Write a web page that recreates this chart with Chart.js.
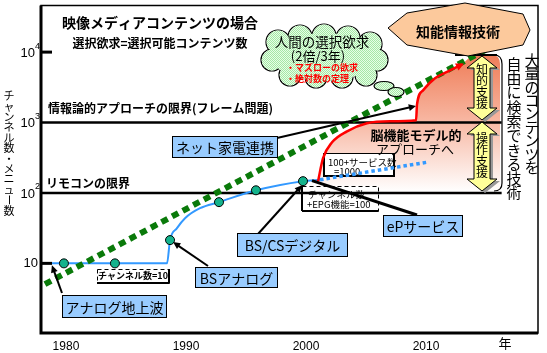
<!DOCTYPE html>
<html>
<head>
<meta charset="utf-8">
<script src="https://cdn.jsdelivr.net/npm/chart.js@4.4.1/dist/chart.umd.min.js"></script>
<style>
  html, body { margin: 0; padding: 0; background: #fff; }
  canvas { display: block; }
</style>
</head>
<body>
<canvas id="chart" width="547" height="353"></canvas>
<script>
// Axis ticks
const xTicks = [1980, 1990, 2000, 2010];
const yTicks = [10, 100, 1000, 10000];
const yTickExponents = ['', '2', '3', '4'];

// Selection demand trend (2x every 3 years)
const trendYears = [1978.25, 2015.33];
const trendValues = [5.08, 11650];

// Channel count (solid) and its forecast (dotted)
const channelYears = [1978.83, 1988.42, 1988.67, 1989.25, 1989.92, 1991.17, 1992.75, 1995.83, 1999.75, 2001.17];
const channelValues = [10, 10, 21.4, 31.6, 43.8, 60.8, 74, 109, 147, 154];
const forecastYears = [2001.17, 2010.08];
const forecastValues = [154, 273];

// Milestones on the channel line
const milestoneYears = [1979.83, 1984.08, 1988.67, 1992.75, 1995.83, 1999.75];
const milestoneValues = [10, 10, 21.4, 74, 109, 147];

// Brain-model approach (red)
const brainYears = [2001.0, 2001.42, 2002.17, 2003.42, 2005.08, 2007.0, 2009.17, 2009.25, 2009.75, 2010.75, 2012.0, 2013.0];
const brainValues = [145, 311, 524, 750, 975, 1040, 1074, 1811, 2862, 4240, 5500, 6690];

// Limit lines
const limitYears = [1977.92, 2016.3];
const remoteLimit = [100, 100];
const frameLimit = [1000, 1000];

const pts = (xs, ys) => xs.map((x, i) => ({ x: x, y: ys[i] }));
const JP = '"Noto Sans CJK JP", "Noto Sans", sans-serif';

function arrowLine(ctx, x1, y1, x2, y2, head, color, width) {
    const a = Math.atan2(y2 - y1, x2 - x1);
    ctx.save();
    ctx.strokeStyle = color;
    ctx.fillStyle = color;
    ctx.lineWidth = width;
    ctx.beginPath();
    ctx.moveTo(x1, y1);
    ctx.lineTo(x2 - Math.cos(a) * head * 0.6, y2 - Math.sin(a) * head * 0.6);
    ctx.stroke();
    if (head > 0) {
        ctx.beginPath();
        ctx.moveTo(x2, y2);
        ctx.lineTo(x2 - head * Math.cos(a - 0.45), y2 - head * Math.sin(a - 0.45));
        ctx.lineTo(x2 - head * Math.cos(a + 0.45), y2 - head * Math.sin(a + 0.45));
        ctx.closePath();
        ctx.fill();
    }
    ctx.restore();
}

function labelBox(ctx, x, y, w, h, text) {
    ctx.save();
    ctx.fillStyle = '#99ccff';
    ctx.fillRect(x, y, w, h);
    ctx.strokeStyle = '#000';
    ctx.lineWidth = 1;
    ctx.strokeRect(x + 0.5, y + 0.5, w - 1, h - 1);
    ctx.fillStyle = '#000';
    ctx.font = '14px ' + JP;
    ctx.textAlign = 'center';
    ctx.textBaseline = 'middle';
    ctx.fillText(text, x + w / 2, y + h / 2 + 1);
    ctx.restore();
}

function text(ctx, str, x, y, font, align, color) {
    ctx.save();
    ctx.font = font;
    ctx.fillStyle = color || '#000';
    ctx.textAlign = align || 'left';
    ctx.textBaseline = 'middle';
    ctx.fillText(str, x, y);
    ctx.restore();
}

function vtext(ctx, str, x, y0, step, font, color) {
    ctx.save();
    ctx.font = font;
    ctx.fillStyle = color || '#000';
    ctx.textAlign = 'center';
    ctx.textBaseline = 'middle';
    Array.from(str).forEach((ch, i) => {
        const y = y0 + i * step;
        if (ch === 'ー') {
            ctx.save();
            ctx.translate(x, y);
            ctx.rotate(Math.PI / 2);
            ctx.fillText(ch, 0, 0);
            ctx.restore();
        } else {
            ctx.fillText(ch, x, y);
        }
    });
    ctx.restore();
}

function noteBox(ctx, x, y, w, h, solidSides) {
    ctx.save();
    ctx.fillStyle = '#fff';
    ctx.fillRect(x, y, w, h);
    ctx.strokeStyle = '#000';
    ctx.lineWidth = 1;
    ctx.setLineDash([4, 3]);
    ctx.strokeRect(x + 0.5, y + 0.5, w, h);
    ctx.setLineDash([]);
    ctx.lineWidth = 2;
    ctx.beginPath();
    if (solidSides.includes('l')) { ctx.moveTo(x, y); ctx.lineTo(x, y + h); }
    if (solidSides.includes('b')) { ctx.moveTo(x, y + h); ctx.lineTo(x + w, y + h); }
    if (solidSides.includes('r')) { ctx.moveTo(x + w, y); ctx.lineTo(x + w, y + h); }
    if (solidSides.includes('t')) { ctx.moveTo(x, y); ctx.lineTo(x + w, y); }
    ctx.stroke();
    ctx.restore();
}

function doubleArrow(ctx, cx, top, bottom) {
    const hl = 12, hh = 15, sh = 8;
    const shape = [
        [cx, top], [cx + hh, top + hl], [cx + sh, top + hl], [cx + sh, bottom - hl],
        [cx + hh, bottom - hl], [cx, bottom], [cx - hh, bottom - hl], [cx - sh, bottom - hl],
        [cx - sh, top + hl], [cx - hh, top + hl]
    ];
    ctx.save();
    [[3, 2, '#999', null], [0, 0, '#ffff99', '#000']].forEach(([dx, dy, fill, stroke]) => {
        ctx.beginPath();
        shape.forEach(([px, py], i) => i ? ctx.lineTo(px + dx, py + dy) : ctx.moveTo(px + dx, py + dy));
        ctx.closePath();
        ctx.fillStyle = fill;
        ctx.fill();
        if (stroke) {
            ctx.strokeStyle = stroke;
            ctx.lineWidth = 1;
            ctx.stroke();
        }
    });
    ctx.restore();
}

function cloud(ctx) {
    const tile = document.createElement('canvas');
    tile.width = 2; tile.height = 2;
    const t = tile.getContext('2d');
    t.fillStyle = '#e6ffe6'; t.fillRect(0, 0, 2, 2);
    t.fillStyle = '#a6e6a6'; t.fillRect(0, 0, 1, 1); t.fillRect(1, 1, 1, 1);
    const pattern = ctx.createPattern(tile, 'repeat');

    const bumps = [[278, 42, 12], [300, 37, 12], [324, 36, 12], [348, 38, 12], [370, 44, 12],
                   [377, 60, 11], [366, 75, 11], [342, 77, 11], [316, 77, 11], [290, 75, 11], [272, 60, 11]];
    const puffs = [[384, 86, 10, 4.5], [396, 92, 8, 4.5]];
    ctx.save();
    ctx.strokeStyle = '#000';
    ctx.lineWidth = 1.2;
    bumps.forEach(([cx, cy, r]) => { ctx.beginPath(); ctx.arc(cx, cy, r, 0, Math.PI * 2); ctx.stroke(); });
    ctx.fillStyle = pattern;
    bumps.forEach(([cx, cy, r]) => { ctx.beginPath(); ctx.arc(cx, cy, r - 0.6, 0, Math.PI * 2); ctx.fill(); });
    ctx.beginPath();
    ctx.ellipse(324, 57, 52, 24, 0, 0, Math.PI * 2);
    ctx.fill();
    puffs.forEach(([cx, cy, rx, ry]) => {
        ctx.beginPath();
        ctx.ellipse(cx, cy, rx, ry, 0, 0, Math.PI * 2);
        ctx.fillStyle = pattern;
        ctx.fill();
        ctx.stroke();
    });
    ctx.restore();

    text(ctx, '人間の選択欲求', 322, 42, '13.5px ' + JP, 'center');
    text(ctx, '(2倍/3年)', 318, 56, '13px ' + JP, 'center');
    text(ctx, '・マズローの欲求', 286, 68, 'bold 9px ' + JP, 'left', '#ff0000');
    text(ctx, '・絶対数の定理', 286, 79, 'bold 9px ' + JP, 'left', '#ff0000');
}

const decor = {
    id: 'decor',
    beforeDatasetsDraw(chart) {
        const ctx = chart.ctx;
        const red = chart.getDatasetMeta(4);
        const first = red.data[0];

        // gradient region to the right of the brain-model line
        ctx.save();
        ctx.beginPath();
        if (red.dataset && typeof red.dataset.path === 'function') {
            red.dataset.path(ctx);
        } else {
            red.data.forEach((p, i) => i ? ctx.lineTo(p.x, p.y) : ctx.moveTo(p.x, p.y));
        }
        ctx.lineTo(472, 55);
        ctx.lineTo(492, 55);
        ctx.quadraticCurveTo(500, 55, 500, 64);
        ctx.lineTo(500, 192);
        ctx.lineTo(first.x, 192);
        ctx.closePath();
        const g = ctx.createLinearGradient(0, 55, 0, 192);
        g.addColorStop(0, '#ef7d58');
        g.addColorStop(0.45, '#f7b39d');
        g.addColorStop(1, '#ffffff');
        ctx.fillStyle = g;
        ctx.fill();
        ctx.restore();

        // note boxes sitting under the lines
        noteBox(ctx, 302, 186, 76, 25, 'lb');
        text(ctx, 'チャンネル数', 308, 194, '9.5px ' + JP);
        text(ctx, '+EPG機能=100', 307, 204, '9.5px ' + JP);

        ctx.save();
        ctx.fillStyle = '#fff';
        ctx.fillRect(323, 153, 71, 23);
        ctx.strokeStyle = '#000';
        ctx.lineWidth = 1;
        ctx.strokeRect(323.5, 153.5, 70, 22);
        ctx.lineWidth = 2;
        ctx.beginPath();
        ctx.moveTo(324, 153); ctx.lineTo(324, 176); ctx.lineTo(394, 176); ctx.lineTo(394, 153);
        ctx.stroke();
        ctx.restore();
        text(ctx, '100+サービス数', 328, 162, '9.5px ' + JP);
        text(ctx, '=1000', 334, 171, '9.5px ' + JP);
    },
    afterDatasetsDraw(chart) {
        const ctx = chart.ctx;
        const area = chart.chartArea;
        const ys = chart.scales.y;
        const red = chart.getDatasetMeta(4).data;
        const stones = chart.getDatasetMeta(6).data;
        const blue = chart.getDatasetMeta(2).data;

        // red arrow head
        const a = red[red.length - 2], b = red[red.length - 1];
        arrowLine(ctx, a.x, a.y, b.x + 2, b.y - 1, 9, '#ff0000', 0);

        // frame
        ctx.save();
        ctx.strokeStyle = '#000';
        ctx.lineWidth = 1.5;
        ctx.strokeRect(area.left, area.top, area.right - area.left, area.bottom - area.top);
        ctx.lineWidth = 3;
        ctx.beginPath();
        ctx.moveTo(area.left, area.top);
        ctx.lineTo(area.left, area.bottom);
        ctx.lineTo(area.right, area.bottom);
        ctx.stroke();
        // inner tick marks
        [10, 10000].forEach(v => {
            const py = ys.getPixelForValue(v);
            ctx.beginPath();
            ctx.moveTo(area.left, py);
            ctx.lineTo(area.left + 11, py);
            ctx.stroke();
        });
        ctx.lineWidth = 2;
        ctx.beginPath();
        ctx.moveTo(455, 55);
        ctx.lineTo(497, 55);
        ctx.stroke();
        ctx.restore();

        // y tick labels
        yTicks.forEach((v, i) => {
            const py = ys.getPixelForValue(v);
            if (yTickExponents[i]) {
                text(ctx, '10', 35, py + 1, '13px "Liberation Sans"', 'right');
                text(ctx, yTickExponents[i], 35, py - 6, '9px "Liberation Sans"', 'left');
            } else {
                text(ctx, '10', 38, py, '13px "Liberation Sans"', 'right');
            }
        });
        vtext(ctx, 'チャンネル数・メニュー数', 9, 96, 10.4, '11px ' + JP);
        text(ctx, '年', 505, 343, '13px ' + JP, 'center');

        // titles and limit captions
        text(ctx, '映像メディアコンテンツの場合', 160, 23, 'bold 14px ' + JP, 'center');
        text(ctx, '選択欲求=選択可能コンテンツ数', 160, 43, 'bold 12px ' + JP, 'center');
        text(ctx, '情報論的アプローチの限界(フレーム問題)', 48, 108, 'bold 12px ' + JP);
        text(ctx, 'リモコンの限界', 46, 183, 'bold 12px ' + JP);
        text(ctx, '脳機能モデル的', 416, 135, 'bold 13px ' + JP, 'center');
        text(ctx, 'アプローチへ', 415, 149, '13px ' + JP, 'center');

        // channel=10 note
        noteBox(ctx, 97, 269, 72, 14, 'br');
        text(ctx, 'チャンネル数=10', 133, 276, 'bold 9px ' + JP, 'center');

        // cloud and knowledge tech badge
        cloud(ctx);
        ctx.save();
        ctx.beginPath();
        [[388, 28], [407, 13], [465, 3], [523, 14], [530, 30], [523, 45], [468, 56], [407, 45]]
            .forEach(([px, py], i) => i ? ctx.lineTo(px, py) : ctx.moveTo(px, py));
        ctx.closePath();
        ctx.fillStyle = '#fcc99c';
        ctx.fill();
        ctx.strokeStyle = '#000';
        ctx.lineWidth = 1;
        ctx.stroke();
        ctx.restore();
        text(ctx, '知能情報技術', 458, 32, 'bold 14px ' + JP, 'center');

        // support arrows and bracket
        doubleArrow(ctx, 482, 56, 120);
        doubleArrow(ctx, 482, 122, 191);
        vtext(ctx, '知的支援', 482, 69, 11.5, '12px ' + JP);
        vtext(ctx, '操作支援', 482, 138, 11.5, '12px ' + JP);
        ctx.save();
        ctx.strokeStyle = '#000';
        ctx.lineWidth = 1.2;
        ctx.beginPath();
        ctx.moveTo(494, 55);
        ctx.quadraticCurveTo(502, 55, 502, 64);
        ctx.lineTo(502, 183);
        ctx.quadraticCurveTo(502, 191, 494, 191);
        ctx.stroke();
        ctx.restore();
        vtext(ctx, '大量のコンテンツを', 532, 60, 13.4, '15px ' + JP);
        vtext(ctx, '自由に検索できる技術', 514, 64, 14.3, '15px ' + JP);

        // callouts
        arrowLine(ctx, 277, 138, 416, 106, 8, '#000', 2);
        labelBox(ctx, 172, 136, 106, 22, 'ネット家電連携');

        arrowLine(ctx, 62, 293, blue[0].x, blue[0].y + 2, 8, '#000', 2);
        labelBox(ctx, 62, 295, 105, 23, 'アナログ地上波');

        arrowLine(ctx, 208, 266, stones[2].x + 3, stones[2].y + 2, 8, '#000', 2);
        labelBox(ctx, 195, 267, 83, 21, 'BSアナログ');

        arrowLine(ctx, 258, 234, stones[5].x - 1, stones[5].y + 4, 8, '#000', 2);
        labelBox(ctx, 237, 233, 111, 24, 'BS/CSデジタル');

        arrowLine(ctx, red[0].x - 6, red[0].y - 1, 417, 215, 0, '#000', 3);
        labelBox(ctx, 383, 215, 80, 22, 'ePサービス');
    }
};

new Chart(document.getElementById('chart'), {
    type: 'line',
    data: {
        datasets: [
            {
                label: 'リモコンの限界',
                data: pts(limitYears, remoteLimit),
                borderColor: '#000', borderWidth: 2.5, pointRadius: 0, order: 6
            },
            {
                label: '情報論的アプローチの限界',
                data: pts(limitYears, frameLimit),
                borderColor: '#000', borderWidth: 2.5, pointRadius: 0, order: 6
            },
            {
                label: 'チャンネル数',
                data: pts(channelYears, channelValues),
                borderColor: '#3399ff', borderWidth: 2, pointRadius: 0,
                cubicInterpolationMode: 'monotone', order: 4
            },
            {
                label: '予測',
                data: pts(forecastYears, forecastValues),
                borderColor: '#3399ff', borderWidth: 3.5, borderDash: [3.5, 3],
                pointRadius: 0, order: 4
            },
            {
                label: '脳機能モデル',
                data: pts(brainYears, brainValues),
                borderColor: '#ff0000', borderWidth: 2.5, pointRadius: 0,
                cubicInterpolationMode: 'monotone', order: 2
            },
            {
                label: '選択欲求',
                data: pts(trendYears, trendValues),
                borderColor: '#0a7a0a', borderWidth: 6, borderDash: [7, 5],
                pointRadius: 0, order: 3
            },
            {
                label: 'サービス',
                data: pts(milestoneYears, milestoneValues),
                showLine: false, pointRadius: 4.5,
                pointBackgroundColor: '#14b38c', pointBorderColor: '#000', pointBorderWidth: 1,
                order: 0
            }
        ]
    },
    options: {
        responsive: false,
        animation: false,
        devicePixelRatio: 1,
        layout: { padding: { top: 5, right: 9, left: 0, bottom: 0 } },
        plugins: { legend: { display: false }, tooltip: { enabled: false } },
        scales: {
            x: {
                type: 'linear',
                min: 1977.92,
                max: 2019.33,
                afterBuildTicks: s => { s.ticks = xTicks.map(v => ({ value: v })); },
                afterFit: s => { s.height = 20; },
                ticks: {
                    color: '#000', padding: 6, maxRotation: 0, autoSkip: false,
                    font: { family: 'Liberation Sans', size: 12 },
                    callback: v => String(v)
                },
                grid: { display: false, drawTicks: false },
                border: { display: false }
            },
            y: {
                type: 'logarithmic',
                min: 1.026,
                max: 45900,
                afterBuildTicks: s => { s.ticks = yTicks.map(v => ({ value: v })); },
                afterFit: s => { s.width = 41; },
                ticks: { display: false },
                grid: { display: false, drawTicks: false },
                border: { display: false }
            }
        }
    },
    plugins: [decor]
});
</script>
</body>
</html>
